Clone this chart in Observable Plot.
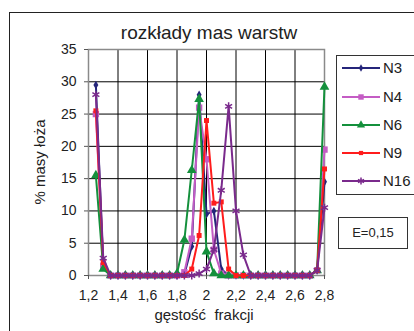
<!DOCTYPE html>
<html><head><meta charset="utf-8">
<script src="https://cdn.jsdelivr.net/npm/d3@7"></script>
<script src="https://cdn.jsdelivr.net/npm/@observablehq/plot@0.6"></script>
<style>
html,body{margin:0;padding:0;background:#fff;}
#wrap{position:relative;width:414px;height:331px;overflow:hidden;font-family:"Liberation Sans",Arial,sans-serif;color:#222;background:#fff;}
#border{position:absolute;left:9px;top:12px;width:430px;height:340px;border:1.5px solid #222;box-sizing:border-box;}
#chart{position:absolute;left:0;top:0;}
#title{position:absolute;left:0;width:418px;top:23px;text-align:center;font-size:19px;line-height:19px;white-space:nowrap;}
#ylab{position:absolute;left:39px;top:162px;transform:translate(-50%,-50%) rotate(-90deg);font-size:15px;line-height:15px;white-space:nowrap;}
#xlab{position:absolute;left:0;width:408px;top:307px;text-align:center;font-size:15px;line-height:15px;white-space:pre;}
#legend{position:absolute;left:336px;top:55px;width:80px;height:140px;border:1.3px solid #333;box-sizing:border-box;background:#fff;}
#ebox{position:absolute;left:338px;top:217px;width:70px;height:32px;border:1.3px solid #333;box-sizing:border-box;font-size:13px;line-height:30px;text-align:center;background:#fff;}
</style></head>
<body>
<div id="wrap">
  <div id="border"></div>
  <div id="chart"></div>
  <div id="title">rozkłady mas warstw</div>
  <div id="ylab">% masy łoża</div>
  <div id="xlab">gęstość  frakcji</div>
  <div id="legend"></div>
  <div id="ebox">E=0,15</div>
</div>
<script>
const X = [1.25,1.30,1.35,1.40,1.45,1.50,1.55,1.60,1.65,1.70,1.75,1.80,1.85,1.90,1.95,2.00,2.05,2.10,2.15,2.20,2.25,2.30,2.35,2.40,2.45,2.50,2.55,2.60,2.65,2.70,2.75,2.80];
const N3  = [29.5,1.5,0,0,0,0,0,0,0,0,0,0,0.2,4.5,28,9.5,10,1,0,0,0,0,0,0,0,0,0,0,0,0,0.8,14.5];
const N4  = [25,1.5,0,0,0,0,0,0,0,0,0,0,0.5,5.7,26,18,4,0.3,0,0,0,0,0,0,0,0,0,0,0,0,0.8,19.5];
const N6  = [15.5,1,0,0,0,0,0,0,0,0,0,0.3,5.5,16.3,27.3,3.7,0.3,0,0,0,0,0,0,0,0,0,0,0,0,0,0.8,29.2];
const N9  = [25.5,2,0,0,0,0,0,0,0,0,0,0,0,1,6.2,24,11.2,11.4,1,0,0,0,0,0,0,0,0,0,0,0,0.8,16.5];
const N16 = [28,2.7,0,0,0,0,0,0,0,0,0,0,0,0,0.3,1,4,13.2,26.2,10,3.2,0,0,0,0,0,0,0,0,0,0.8,10.5];
const seriesNames = ["N3","N4","N6","N9","N16"];
const xTicks = [1.2,1.4,1.6,1.8,2.0,2.2,2.4,2.6,2.8];
const yTicks = [0,5,10,15,20,25,30,35];

const series = [
  {name:"N3", values:N3, color:"#25257a", symbol:"diamond", r:2.6, stroke:false},
  {name:"N4", values:N4, color:"#c45cc4", symbol:"square", r:3.6, stroke:false},
  {name:"N6", values:N6, color:"#14903c", symbol:"triangle", r:3.6, stroke:false},
  {name:"N9", values:N9, color:"#ff1c1c", symbol:"square", r:2.8, stroke:false},
  {name:"N16", values:N16, color:"#7a2a8c", symbol:"asterisk", r:3.8, stroke:true}
];
const rows = series.flatMap(s => X.map((x,i) => ({x, v:s.values[i], name:s.name})));
const fmt = d => String(+(+d).toFixed(1)).replace(".", ",");

const marks = [
  Plot.gridX(xTicks, {stroke:"#000", strokeOpacity:1, strokeWidth:1}),
  Plot.gridY([5,10,15,20,25,30], {stroke:"#000", strokeOpacity:1, strokeWidth:1}),
  Plot.frame({stroke:"#8a8a8a", strokeWidth:1.5}),
  Plot.axisY({ticks:yTicks, tickSize:4, tickPadding:8, tickFormat:fmt, fontSize:14, stroke:"#555"}),
  Plot.axisX({ticks:xTicks, tickSize:4, tickPadding:11, tickFormat:fmt, fontSize:14, stroke:"#555"})
];
for (const s of series) {
  const d = rows.filter(r => r.name === s.name);
  marks.push(Plot.line(d, {x:"x", y:"v", stroke:s.color, strokeWidth:2}));
  if (s.stroke) marks.push(Plot.dot(d, {x:"x", y:"v", symbol:s.symbol, r:s.r, stroke:s.color, strokeWidth:1.5, fill:"none"}));
  else marks.push(Plot.dot(d, {x:"x", y:"v", symbol:s.symbol, r:s.r, fill:s.color, stroke:"none"}));
}

const chart = Plot.plot({
  width:414, height:331,
  marginLeft:88, marginRight:90, marginTop:49, marginBottom:56,
  x:{domain:[1.2,2.8], label:null},
  y:{domain:[0,35], label:null},
  style:{fontFamily:"Liberation Sans, Arial, sans-serif", fontSize:"14px", color:"#222", background:"transparent"},
  marks
});
document.getElementById("chart").appendChild(chart);

// legend
const lg = d3.select("#legend").append("svg").attr("width",80).attr("height",140).style("position","absolute").style("left","-1px").style("top","-1px");
const rowY = [13,42,70,98,126];
series.forEach((s,i) => {
  const g = lg.append("g").attr("transform",`translate(0,${rowY[i]})`);
  g.append("line").attr("x1",6).attr("x2",44).attr("y1",0).attr("y2",0).attr("stroke",s.color).attr("stroke-width",2);
  const symMap = {diamond:d3.symbolDiamond, square:d3.symbolSquare, triangle:d3.symbolTriangle, asterisk:d3.symbolAsterisk};
  const rr = s.r * 0.85;
  const p = g.append("path").attr("transform","translate(25,0)").attr("d", d3.symbol(symMap[s.symbol], Math.PI*rr*rr)());
  if (s.stroke) p.attr("fill","none").attr("stroke",s.color).attr("stroke-width",1.5);
  else p.attr("fill",s.color);
  g.append("text").attr("x",47).attr("y",0).attr("dy","0.36em").attr("font-size",15).attr("fill","#222")
   .attr("font-family","Liberation Sans, Arial, sans-serif").text(s.name);
});
</script>
</body></html>
